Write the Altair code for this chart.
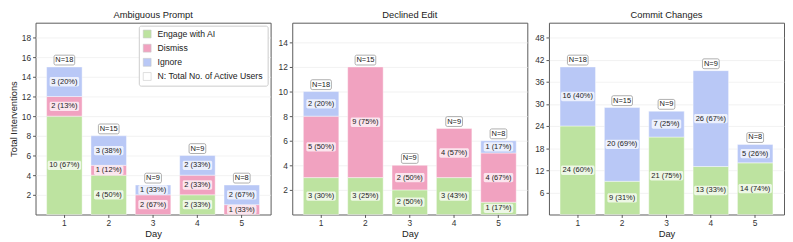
import altair as alt
import pandas as pd

days = [1, 2, 3, 4, 5]
n_users = [18, 15, 9, 9, 8]
panel_titles = ["Ambiguous Prompt", "Declined Edit", "Commit Changes"]
actions = ["Engage with AI", "Dismiss", "Ignore"]
n_legend = "N: Total No. of Active Users"

ambiguous_engage = [10, 4, 0, 2, 0]
ambiguous_dismiss = [2, 1, 2, 2, 1]
ambiguous_ignore = [3, 3, 1, 2, 2]

declined_engage = [3, 3, 2, 3, 1]
declined_dismiss = [5, 9, 2, 4, 4]
declined_ignore = [2, 0, 0, 0, 1]

commit_engage = [24, 9, 21, 13, 14]
commit_dismiss = [0, 0, 0, 0, 0]
commit_ignore = [16, 20, 7, 26, 5]

ambiguous_ticks = [2, 4, 6, 8, 10, 12, 14, 16, 18]
declined_ticks = [2, 4, 6, 8, 10, 12, 14]
commit_ticks = [6, 12, 18, 24, 30, 36, 42, 48]

colors = ["#bde3a0", "#f1a2c0", "#b9c8f6", "#ffffff"]
FONT = "Liberation Sans"


def rounded_box(w, h, r=1.5):
    x0, x1, y0, y1 = -w / 2, w / 2, -h / 2, h / 2
    return (f"M{x0 + r},{y0} L{x1 - r},{y0} A{r},{r} 0 0 1 {x1},{y0 + r} "
            f"L{x1},{y1 - r} A{r},{r} 0 0 1 {x1 - r},{y1} L{x0 + r},{y1} "
            f"A{r},{r} 0 0 1 {x0},{y1 - r} L{x0},{y0 + r} A{r},{r} 0 0 1 {x0 + r},{y0} Z")


box_keys = ["s7", "s8", "n3", "n4"]
box_paths = [rounded_box(30, 9.5), rounded_box(34, 9.5), rounded_box(17, 10), rounded_box(21, 10)]


def build(engage, dismiss, ignore):
    seg_rows, tot_rows = [], []
    for i, d in enumerate(days):
        vals = [engage[i], dismiss[i], ignore[i]]
        total = sum(vals)
        start = 0
        for k, (a, v) in enumerate(zip(actions, vals)):
            if v > 0:
                lab = f"{v} ({round(100 * v / total)}%)"
                seg_rows.append(dict(Day=d, Action=a, order=k, start=start, end=start + v,
                                     mid=start + v / 2, label=lab, key="s" + str(len(lab))))
            start += v
        nl = f"N={n_users[i]}"
        tot_rows.append(dict(Day=d, total=total, label=nl, key="n" + str(len(nl))))
    return pd.DataFrame(seg_rows), pd.DataFrame(tot_rows)


def panel(title, engage, dismiss, ignore, ticks, show_legend, y_title):
    seg, tot = build(engage, dismiss, ignore)
    ymax = tot["total"].max() * 1.3
    x = alt.X("Day:O", title="Day",
              scale=alt.Scale(paddingInner=0.2, paddingOuter=0.25),
              axis=alt.Axis(labelAngle=0, labelPadding=1, titlePadding=2))
    yscale = alt.Scale(domain=[0, ymax], nice=False, zero=True)
    yaxis = alt.Axis(values=ticks, grid=True, labelOverlap=False, title=y_title)

    def Y(field):
        return alt.Y(field, scale=yscale, axis=yaxis)

    legend = alt.Legend(title=None, orient="top-right", offset=3, fillColor="white",
                        strokeColor="#cccccc", padding=4, cornerRadius=2,
                        labelFontSize=8.8, labelFont=FONT, labelColor="#222",
                        symbolType="square", symbolSize=64, symbolStrokeColor="#c8c8c8",
                        symbolStrokeWidth=0.6, rowPadding=3.4, labelOffset=6) if show_legend else None
    bars = alt.Chart(seg).mark_bar(stroke="white", strokeWidth=0.6, strokeOpacity=0.7).encode(
        x=x,
        y=Y("start:Q"),
        y2="end:Q",
        color=alt.Color("Action:N",
                        scale=alt.Scale(domain=actions + [n_legend], range=colors),
                        legend=legend),
    )
    shape_scale = alt.Scale(domain=box_keys, range=box_paths)
    seg_box = alt.Chart(seg).mark_point(filled=True, size=4, fill="white", opacity=0.72,
                                        strokeWidth=0).encode(
        x=x, y=Y("mid:Q"),
        shape=alt.Shape("key:N", scale=shape_scale, legend=None))
    seg_txt = alt.Chart(seg).mark_text(font=FONT, fontSize=7.6, color="#222",
                                       baseline="middle").encode(
        x=x, y=Y("mid:Q"), text="label:N")
    n_box = alt.Chart(tot).mark_point(filled=True, size=4, fill="white", opacity=1,
                                      stroke="#9a9a9a", strokeWidth=0.8, yOffset=-7).encode(
        x=x, y=Y("total:Q"),
        shape=alt.Shape("key:N", scale=shape_scale, legend=None))
    n_txt = alt.Chart(tot).mark_text(font=FONT, fontSize=7.6, color="#222",
                                     baseline="middle", yOffset=-7).encode(
        x=x, y=Y("total:Q"), text="label:N")
    return alt.layer(bars, seg_box, seg_txt, n_box, n_txt).properties(
        width=239, height=195,
        title=alt.TitleParams(title, fontSize=9.5, font=FONT, fontWeight="normal",
                              color="#222", offset=3))


p1 = panel(panel_titles[0], ambiguous_engage, ambiguous_dismiss, ambiguous_ignore,
           ambiguous_ticks, True, "Total Interventions")
p2 = panel(panel_titles[1], declined_engage, declined_dismiss, declined_ignore,
           declined_ticks, False, None)
p3 = panel(panel_titles[2], commit_engage, commit_dismiss, commit_ignore,
           commit_ticks, False, None)

chart = alt.hconcat(p1, p2, p3, spacing=6).resolve_scale(
    y="independent", color="independent", shape="independent"
).properties(padding=0, background="white").configure_view(
    stroke="#5a5a5a", strokeWidth=1
).configure_axis(
    domain=False, labelFont=FONT, titleFont=FONT, labelFontSize=8.5, titleFontSize=9.5,
    labelColor="#333", titleColor="#222", titleFontWeight="normal",
    tickColor="#555", tickSize=3, labelPadding=2, titlePadding=3,
    gridColor="#ececec", gridWidth=0.7, labelOverlap=False
).configure_axisX(grid=False)

chart.save("out.html", embed_options={"renderer": "svg", "actions": False})
